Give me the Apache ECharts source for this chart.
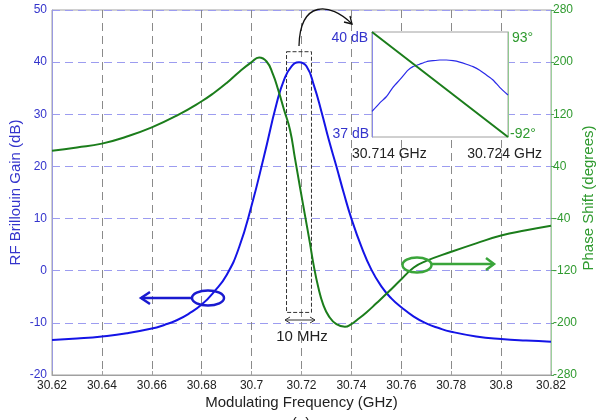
<!DOCTYPE html>
<html><head><meta charset="utf-8">
<script src="https://cdn.jsdelivr.net/npm/echarts@6/dist/echarts.min.js"></script>
<style>html,body{margin:0;padding:0;background:#fff}#c{width:596px;height:420px}</style>
</head><body><div id="c"></div>
<script>
// ---- data ----
const gainFreq = [30.62,30.63,30.64,30.65,30.66,30.665,30.67,30.675,30.68,30.685,30.69,30.695,30.70,30.705,30.71,30.713,30.716,30.719,30.722,30.725,30.728,30.731,30.734,30.737,30.74,30.744,30.748,30.752,30.756,30.76,30.765,30.77,30.775,30.78,30.79,30.80,30.81,30.82];
const gainDb   = [-13.3,-13.0,-12.6,-12.0,-11.1,-10.4,-9.5,-8.2,-6.5,-4.0,-0.8,4.5,12.5,22,32,36.6,39.2,40,39.2,35.5,30.5,25,20,14.8,10,4.6,0.2,-3,-5.3,-7,-8.8,-10.1,-11,-11.7,-12.6,-13.1,-13.4,-13.6];
const phaseFreq = [30.62,30.63,30.64,30.65,30.66,30.67,30.68,30.685,30.69,30.695,30.70,30.703,30.706,30.7085,30.7107,30.713,30.7154,30.7174,30.7194,30.7214,30.7234,30.7247,30.7267,30.7287,30.731,30.734,30.7374,30.740,30.7421,30.746,30.750,30.755,30.7595,30.765,30.77,30.78,30.79,30.80,30.81,30.82];
const phaseDeg  = [64,69,75,86,100,118,140,153,168,185,200,207,201,182,157,127,96,52,8,-35,-78,-108,-145,-172,-190,-202,-206,-202,-196,-184,-170,-152,-135,-115,-105,-91,-78,-66,-58,-51];
const insetFreq = [30.714,30.71456,30.71505,30.71554,30.71603,30.71665,30.71701,30.7175,30.718,30.71849,30.71898,30.71947,30.71996,30.72045,30.72094,30.72143,30.72192,30.72241,30.7229,30.72339,30.724];
const insetDb   = [37.73,37.97,38.15,38.42,38.63,38.91,39.01,39.08,39.15,39.18,39.20,39.20,39.18,39.14,39.08,39.01,38.91,38.77,38.63,38.42,38.20];
const insetPhaseFreq = [30.714,30.716,30.718,30.720,30.722,30.724];
const insetPhaseDeg  = [93,56,19,-18,-55,-92];
const boxFreq = [30.714,30.724];
const boxDb = [42,-8];
const insetLabels = ['40 dB','37 dB','93°','-92°','30.714 GHz','30.724 GHz'];

const zip = (a,b) => a.map((v,i)=>[v,b[i]]);
const FONT = '"Liberation Sans", Arial, sans-serif';
const BLUE = '#1414e6', GREEN = '#1b7d1b', BLUET = '#3434cc', GREENT = '#2f9a2f';

const chart = echarts.init(document.getElementById('c'), null, {renderer:'canvas'});
chart.setOption({
  animation:false,
  backgroundColor:'#fff',
  textStyle:{fontFamily:FONT},
  grid:[
    {left:52, top:10, right:45, bottom:45, containLabel:false, outerBoundsMode:'none', show:true, borderColor:'#a0a0a0', borderWidth:1, backgroundColor:'#fff'},
    {left:372, top:32, width:136, height:105, containLabel:false, outerBoundsMode:'none', show:false}
  ],
  xAxis:[
    {type:'value', gridIndex:0, min:30.62, max:30.82, interval:0.02,
     name:'Modulating Frequency (GHz)', nameLocation:'middle', nameGap:20, nameMoveOverlap:false,
     nameTextStyle:{fontSize:15, color:'#222', fontFamily:FONT},
     axisLine:{onZero:false, lineStyle:{color:'#a0a0a0'}}, axisTick:{inside:true, length:4, lineStyle:{color:'#a0a0a0'}},
     axisLabel:{fontSize:12, color:'#222', margin:5, fontFamily:FONT, formatter:v=>String(Number(v.toFixed(2)))},
     splitLine:{show:true, lineStyle:{color:'#8a8a8a', type:[8,5], width:1}}},
    {type:'value', gridIndex:1, min:30.714, max:30.724, show:true,
     axisLine:{show:false, onZero:false}, axisTick:{show:false}, axisLabel:{show:false}, splitLine:{show:false}}
  ],
  yAxis:[
    {type:'value', gridIndex:0, min:-20, max:50, interval:10, position:'left',
     name:'RF Brillouin Gain (dB)', nameLocation:'middle', nameGap:29, nameMoveOverlap:false,
     nameTextStyle:{fontSize:15, color:BLUET, fontFamily:FONT},
     axisLine:{show:true, onZero:false, lineStyle:{color:'#9a9ae0'}}, axisTick:{show:false},
     axisLabel:{fontSize:12, color:BLUET, margin:5, fontFamily:FONT},
     splitLine:{show:true, lineStyle:{color:'#9c9cf0', type:[8,5], width:1}}},
    {type:'value', gridIndex:0, min:-280, max:280, interval:80, position:'right',
     axisLine:{show:true, onZero:false, lineStyle:{color:'#9cd09c'}}, axisTick:{show:true, length:3, lineStyle:{color:'#5aa55a'}},
     axisLabel:{fontSize:12, color:GREENT, margin:2, fontFamily:FONT},
     splitLine:{show:false}},
    {type:'value', gridIndex:1, min:37, max:40, position:'left', z:5,
     axisLine:{show:true, onZero:false, lineStyle:{color:'#8a8ae8'}}, axisTick:{show:false}, axisLabel:{show:false}, splitLine:{show:false}},
    {type:'value', gridIndex:1, min:-92, max:93, position:'right', z:5,
     axisLine:{show:true, onZero:false, lineStyle:{color:'#8fc98f'}}, axisTick:{show:false}, axisLabel:{show:false}, splitLine:{show:false}}
  ],
  series:[
    {type:'line', xAxisIndex:0, yAxisIndex:0, data:zip(gainFreq,gainDb), showSymbol:false, smooth:0.5,
     lineStyle:{color:BLUE, width:2}, z:3,
     markArea:{silent:true, itemStyle:{color:'rgba(0,0,0,0)', borderColor:'#333', borderWidth:1, borderType:[4,2]},
       data:[[{coord:[boxFreq[0],boxDb[0]]},{coord:[boxFreq[1],boxDb[1]]}]]}},
    {type:'line', xAxisIndex:0, yAxisIndex:1, data:zip(phaseFreq,phaseDeg), showSymbol:false, smooth:0.5,
     lineStyle:{color:GREEN, width:2}, z:3},
    {type:'line', xAxisIndex:1, yAxisIndex:2, data:zip(insetFreq,insetDb), showSymbol:false, smooth:0.2,
     lineStyle:{color:'#2a2ae8', width:1.2}, z:6},
    {type:'line', xAxisIndex:1, yAxisIndex:3, data:zip(insetPhaseFreq,insetPhaseDeg), showSymbol:false,
     lineStyle:{color:GREEN, width:2}, z:6}
  ],
  graphic:[
    {type:'text', z:10, x:589, y:198, rotation:Math.PI/2, style:{text:'Phase Shift (degrees)', x:0, y:0, fill:GREENT, font:'15px '+FONT, textAlign:'center', textVerticalAlign:'middle'}},
    {type:'rect', z:1, shape:{x:372,y:32,width:136,height:105}, style:{fill:'#fff', stroke:'#a0a0a0', lineWidth:1}},
    {type:'text', z:10, style:{text:insetLabels[0], x:368, y:38, fill:BLUET, font:'14px '+FONT, textAlign:'right', textVerticalAlign:'middle'}},
    {type:'text', z:10, style:{text:insetLabels[1], x:369, y:134, fill:BLUET, font:'14px '+FONT, textAlign:'right', textVerticalAlign:'middle'}},
    {type:'text', z:10, style:{text:insetLabels[2], x:512, y:38, fill:GREENT, font:'14px '+FONT, textAlign:'left', textVerticalAlign:'middle'}},
    {type:'text', z:10, style:{text:insetLabels[3], x:510, y:134, fill:GREENT, font:'14px '+FONT, textAlign:'left', textVerticalAlign:'middle'}},
    {type:'text', z:10, style:{text:insetLabels[4], x:352, y:154, fill:'#222', font:'14px '+FONT, textAlign:'left', textVerticalAlign:'middle'}},
    {type:'text', z:10, style:{text:insetLabels[5], x:542, y:154, fill:'#222', font:'14px '+FONT, textAlign:'right', textVerticalAlign:'middle'}},
    {type:'bezierCurve', z:10, shape:{x1:299,y1:46,cpx1:300,cpy1:0,cpx2:330,cpy2:2,x2:352,y2:24}, style:{stroke:'#111', lineWidth:1.3, fill:null}},
    {type:'polyline', z:10, shape:{points:[[344,22],[352,24],[350,16]]}, style:{stroke:'#111', lineWidth:1.3, fill:null}},
    {type:'line', z:10, shape:{x1:285,y1:320,x2:315,y2:320}, style:{stroke:'#333', lineWidth:1}},
    {type:'polyline', z:10, shape:{points:[[290,317],[285,320],[290,323]]}, style:{stroke:'#333', lineWidth:1, fill:null}},
    {type:'polyline', z:10, shape:{points:[[310,317],[315,320],[310,323]]}, style:{stroke:'#333', lineWidth:1, fill:null}},
    {type:'text', z:10, style:{text:'10 MHz', x:302, y:337, fill:'#222', font:'15px '+FONT, textAlign:'center', textVerticalAlign:'middle'}},
    {type:'ellipse', z:10, shape:{cx:208,cy:298,rx:16,ry:7.5}, style:{stroke:'#1a1ad0', lineWidth:2.5, fill:null}},
    {type:'line', z:10, shape:{x1:192,y1:298,x2:141,y2:298}, style:{stroke:'#1a1ad0', lineWidth:2.5}},
    {type:'polyline', z:10, shape:{points:[[150,292],[141,298],[150,304]]}, style:{stroke:'#1a1ad0', lineWidth:2.5, fill:null}},
    {type:'ellipse', z:10, shape:{cx:417,cy:265,rx:14.5,ry:7.5}, style:{stroke:'#3aa53a', lineWidth:2.5, fill:null}},
    {type:'line', z:10, shape:{x1:432,y1:264,x2:494,y2:264}, style:{stroke:'#3aa53a', lineWidth:2.5}},
    {type:'polyline', z:10, shape:{points:[[486,258],[494,264],[486,270]]}, style:{stroke:'#3aa53a', lineWidth:2.5, fill:null}},
    {type:'text', z:10, style:{text:'(a)', x:301, y:416, fill:'#222', font:'15px '+FONT, textAlign:'center', textVerticalAlign:'top'}}
  ]
});
</script></body></html>
